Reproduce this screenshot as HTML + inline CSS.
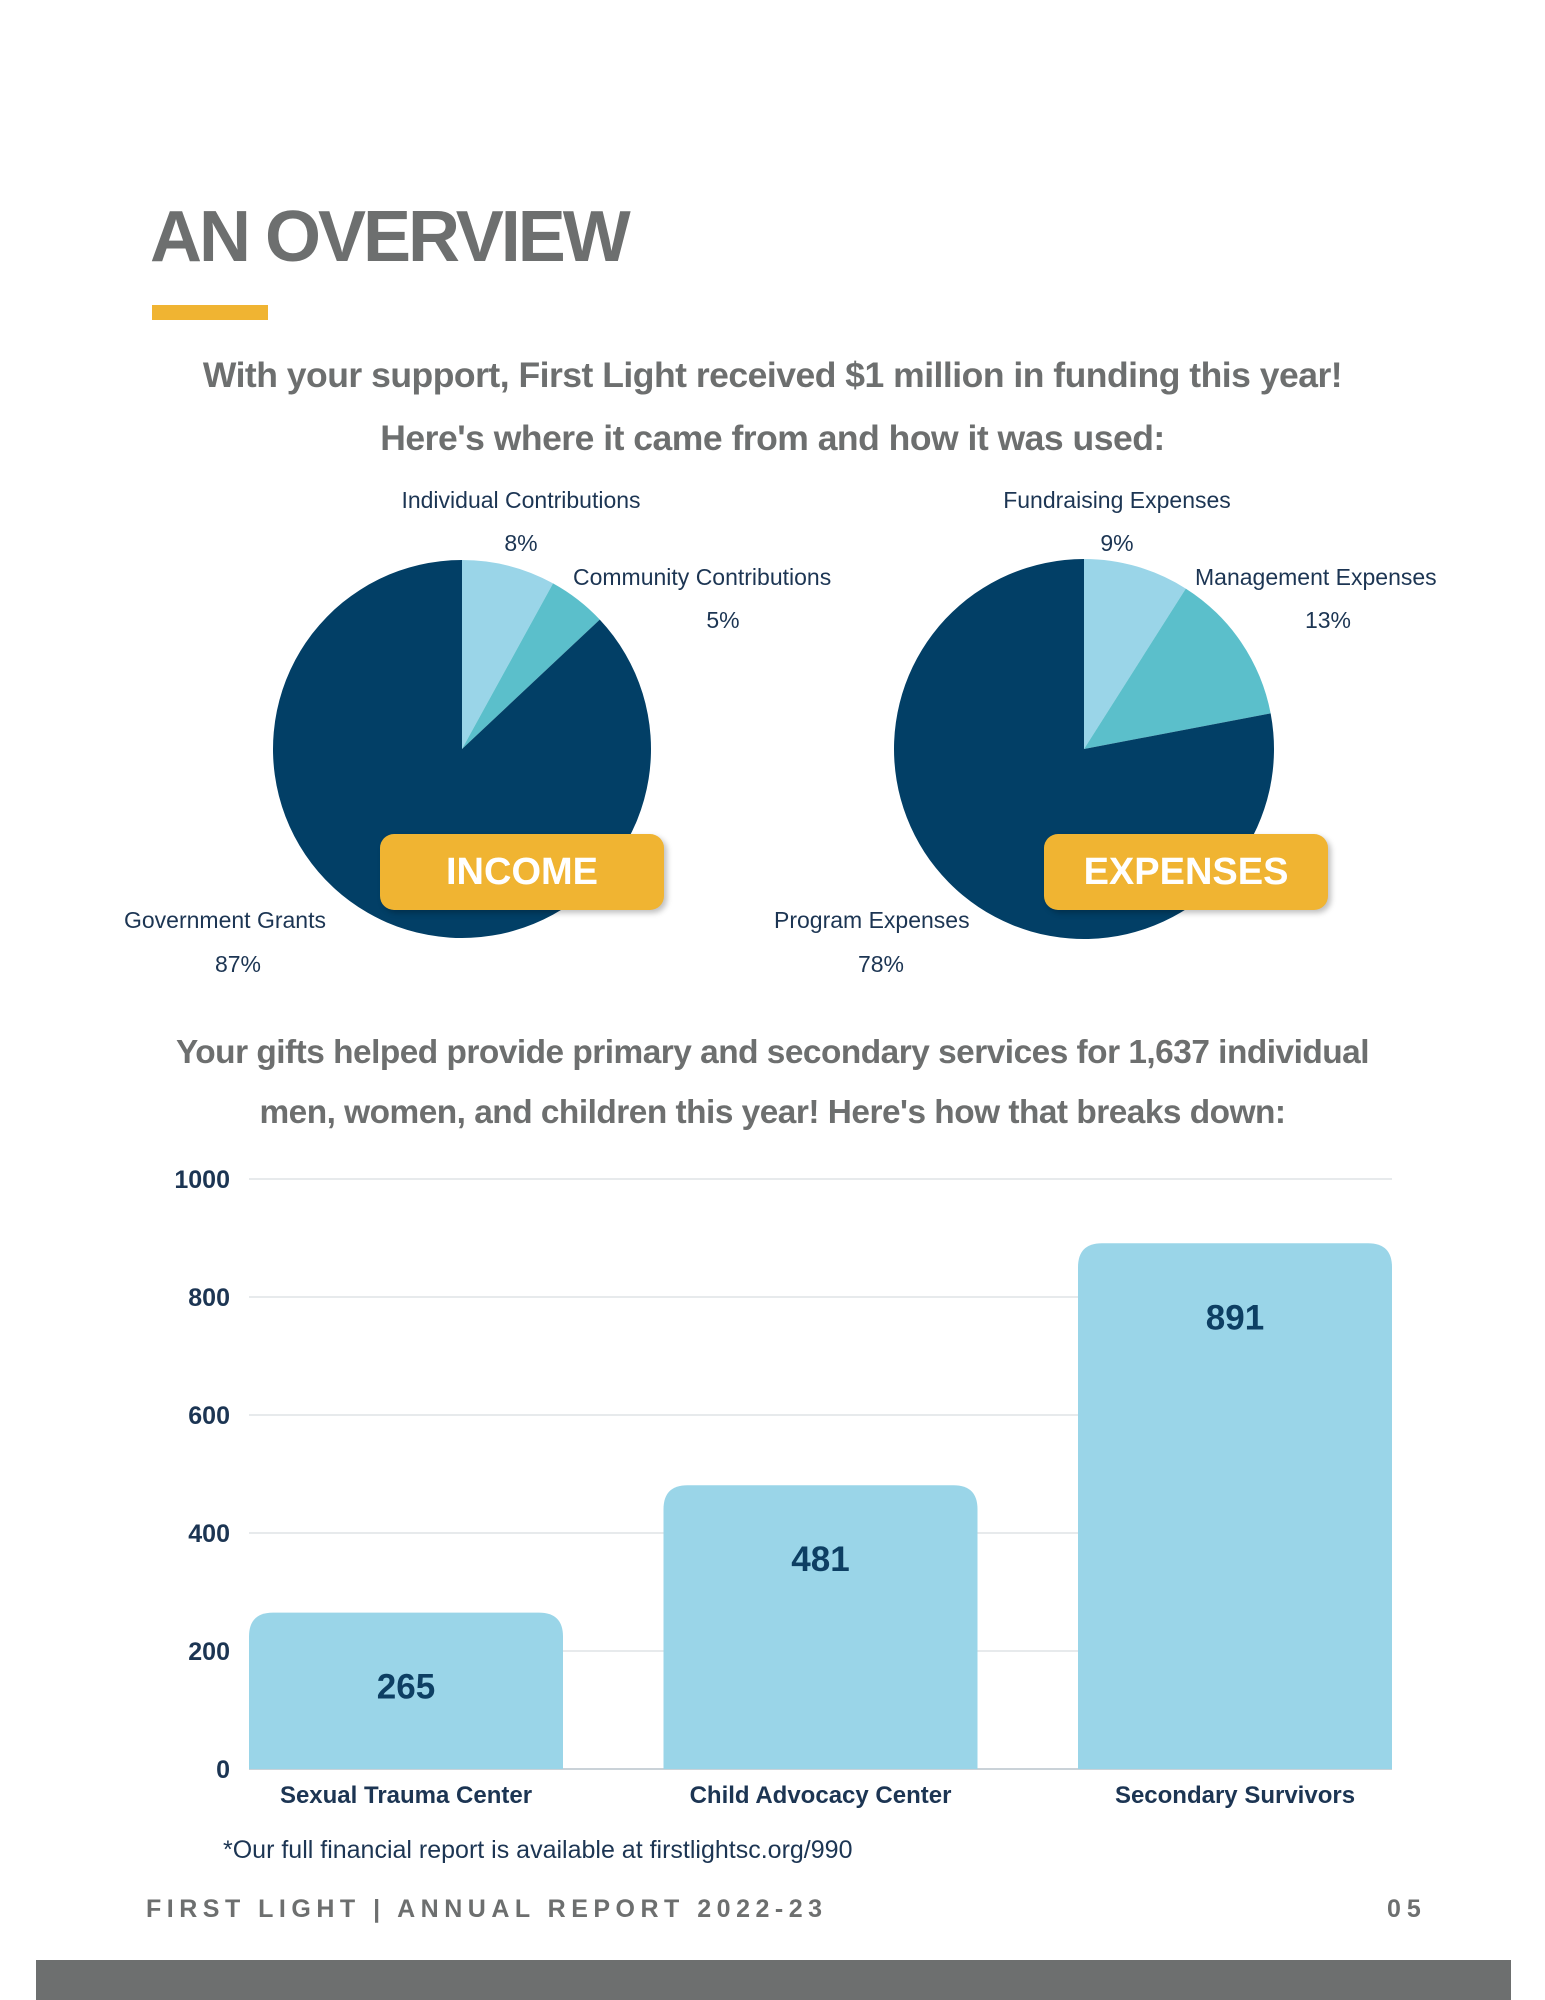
<!DOCTYPE html>
<html><head><meta charset="utf-8">
<style>
html,body{margin:0;padding:0;background:#fff;}
body{width:1545px;height:2000px;position:relative;overflow:hidden;font-family:"Liberation Sans",sans-serif;}
.abs{position:absolute;}
.t{position:absolute;white-space:nowrap;}
</style></head>
<body>
<div class="t" style="left:150px;top:196px;font-size:72px;font-weight:bold;color:#6d6f6f;letter-spacing:-3px;">AN OVERVIEW</div>
<div class="abs" style="left:152px;top:305px;width:116px;height:15px;background:#f0b432;"></div>
<div class="t" style="left:0;width:1545px;text-align:center;top:355px;font-size:35.5px;font-weight:bold;color:#6d6f6f;letter-spacing:-0.5px;">With your support, First Light received $1 million in funding this year!</div>
<div class="t" style="left:0;width:1545px;text-align:center;top:418px;font-size:35.5px;font-weight:bold;color:#6d6f6f;letter-spacing:-0.5px;">Here's where it came from and how it was used:</div>

<svg class="abs" style="left:0;top:0" width="1545" height="1000">
<g id="pies"></g>
</svg>

<div class="t" style="left:521px;transform:translateX(-50%);top:487px;font-size:23px;color:#1c3553;">Individual Contributions</div>
<div class="t" style="left:521px;transform:translateX(-50%);top:530px;font-size:23px;color:#1c3553;">8%</div>
<div class="t" style="left:573px;top:564px;font-size:23px;color:#1c3553;">Community Contributions</div>
<div class="t" style="left:723px;transform:translateX(-50%);top:607px;font-size:23px;color:#1c3553;">5%</div>
<div class="t" style="left:124px;top:907px;font-size:23px;color:#1c3553;">Government Grants</div>
<div class="t" style="left:238px;transform:translateX(-50%);top:951px;font-size:23px;color:#1c3553;">87%</div>

<div class="t" style="left:1117px;transform:translateX(-50%);top:487px;font-size:23px;color:#1c3553;">Fundraising Expenses</div>
<div class="t" style="left:1117px;transform:translateX(-50%);top:530px;font-size:23px;color:#1c3553;">9%</div>
<div class="t" style="left:1195px;top:564px;font-size:23px;color:#1c3553;">Management Expenses</div>
<div class="t" style="left:1328px;transform:translateX(-50%);top:607px;font-size:23px;color:#1c3553;">13%</div>
<div class="t" style="left:774px;top:907px;font-size:23px;color:#1c3553;">Program Expenses</div>
<div class="t" style="left:881px;transform:translateX(-50%);top:951px;font-size:23px;color:#1c3553;">78%</div>

<div class="abs" style="left:380px;top:834px;width:284px;height:76px;background:#f0b432;border-radius:14px;box-shadow:3px 3px 6px rgba(0,0,0,0.25);color:#fff;font-weight:bold;font-size:38px;text-align:center;line-height:76px;">INCOME</div>
<div class="abs" style="left:1044px;top:834px;width:284px;height:76px;background:#f0b432;border-radius:14px;box-shadow:3px 3px 6px rgba(0,0,0,0.25);color:#fff;font-weight:bold;font-size:38px;text-align:center;line-height:76px;">EXPENSES</div>

<div class="t" style="left:0;width:1545px;text-align:center;top:1034px;font-size:33.4px;font-weight:bold;color:#6d6f6f;letter-spacing:-0.5px;">Your gifts helped provide primary and secondary services for 1,637 individual</div>
<div class="t" style="left:0;width:1545px;text-align:center;top:1094px;font-size:33.4px;font-weight:bold;color:#6d6f6f;letter-spacing:-0.5px;">men, women, and children this year! Here's how that breaks down:</div>

<svg class="abs" style="left:0;top:1100px" width="1545" height="740">
<g id="bars"></g>
</svg>

<div class="t" style="left:223px;top:1836px;font-size:25px;color:#1c3553;">*Our full financial report is available at firstlightsc.org/990</div>
<div class="t" style="left:146px;top:1895px;font-size:25px;font-weight:bold;color:#6d6f6f;letter-spacing:5.5px;">FIRST LIGHT | ANNUAL REPORT 2022-23</div>
<div class="t" style="left:1387px;top:1895px;font-size:25px;font-weight:bold;color:#6d6f6f;letter-spacing:6px;">05</div>
<div class="abs" style="left:36px;top:1960px;width:1475px;height:40px;background:#6d6f6f;"></div>

<script>
const incomeCategories=["Individual Contributions","Community Contributions","Government Grants"];
const incomeValues=[8,5,87];
const expenseCategories=["Fundraising Expenses","Management Expenses","Program Expenses"];
const expenseValues=[9,13,78];
const sliceColors=["#9ad5e8","#5bbfcb","#023f66"];

const barCategories=["Sexual Trauma Center","Child Advocacy Center","Secondary Survivors"];
const barValues=[265,481,891];
const yTicks=[0,200,400,600,800,1000];

const NS="http://www.w3.org/2000/svg";
function mk(tag,attrs,parent){const e=document.createElementNS(NS,tag);for(const k in attrs)e.setAttribute(k,attrs[k]);parent.appendChild(e);return e;}

function drawPie(cx,cy,r,vals,cats,name){
  const g=document.getElementById('pies');
  const total=vals.reduce((a,b)=>a+b,0);
  let a0=-Math.PI/2;
  vals.forEach((v,i)=>{
    const a1=a0+v/total*2*Math.PI;
    const x0=cx+r*Math.cos(a0),y0=cy+r*Math.sin(a0),x1=cx+r*Math.cos(a1),y1=cy+r*Math.sin(a1);
    const large=(a1-a0)>Math.PI?1:0;
    const p=mk('path',{d:`M${cx},${cy} L${x0},${y0} A${r},${r} 0 ${large} 1 ${x1},${y1} Z`,fill:sliceColors[i]},g);
    
    
    a0=a1;
  });
}
drawPie(462,749,189,incomeValues,incomeCategories,'income');
drawPie(1084,749,190,expenseValues,expenseCategories,'expenses');

const g=document.getElementById('bars');
const plotL=249,plotR=1392,y0=669,y1=79,vmax=1000;
function yScale(v){return y0-(v/vmax)*(y0-y1);}
const barW=314;
const step=(plotR-plotL-barW)/(barCategories.length-1);
yTicks.forEach(t=>{
  const y=yScale(t);
  const ln=mk('line',{x1:plotL,x2:plotR,y1:y,y2:y,stroke:t===0?'#b9c3cc':'#dfe3e6','stroke-width':1.5},g);
  
  
  const tx=mk('text',{x:230,y:y+9,'text-anchor':'end','font-size':25,'font-weight':'bold',fill:'#1c3553','font-family':'Liberation Sans, sans-serif'},g);
  tx.textContent=t;
  
  
});
barCategories.forEach((c,i)=>{
  const x=plotL+i*step;
  const yt=yScale(barValues[i]),h=y0-yt,rr=Math.min(24,h);
  const p=mk('path',{d:`M${x},${y0} L${x},${yt+rr} Q${x},${yt} ${x+rr},${yt} L${x+barW-rr},${yt} Q${x+barW},${yt} ${x+barW},${yt+rr} L${x+barW},${y0} Z`,fill:'#9ad5e8'},g);
  
  
  const v=mk('text',{x:x+barW/2,y:yt+86,'text-anchor':'middle','font-size':35,'font-weight':'bold',fill:'#0d3f63','font-family':'Liberation Sans, sans-serif'},g);
  v.textContent=barValues[i];
  
  
  const l=mk('text',{x:x+barW/2,y:y0+34,'text-anchor':'middle','font-size':24,'font-weight':'bold',fill:'#1c3553','font-family':'Liberation Sans, sans-serif'},g);
  l.textContent=c;
  
  
});
</script>
</body></html>
